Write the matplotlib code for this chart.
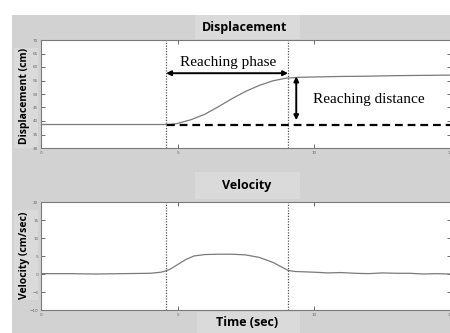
import matplotlib
matplotlib.use("Agg")
import matplotlib.pyplot as plt
from matplotlib.patches import Rectangle

# ---- data ----
disp_t = [0, 1, 2, 3, 4, 4.6, 4.8, 5.0, 5.5, 6.0, 6.5, 7.0, 7.5, 8.0, 8.5, 9.0,
          9.5, 10, 11, 12, 13, 14, 15]
disp_v = [38.7, 38.7, 38.7, 38.7, 38.7, 38.7, 38.8, 39.1, 40.5, 42.5, 45.3, 48.3,
          51.0, 53.2, 54.9, 55.9, 56.2, 56.3, 56.5, 56.6, 56.8, 56.9, 57.0]

vel_t = [0, 1, 2, 3, 4, 4.4, 4.7, 5.0, 5.3, 5.6, 6.0, 6.5, 7.0, 7.5, 8.0, 8.5,
         8.8, 9.05, 9.3, 10, 10.5, 11, 11.5, 12, 12.5, 13, 13.5, 14, 14.5, 15]
vel_v = [0.1, 0.1, 0.0, 0.1, 0.2, 0.5, 1.2, 2.6, 4.0, 5.0, 5.4, 5.5, 5.5, 5.3,
         4.6, 3.2, 2.0, 1.0, 0.7, 0.5, 0.3, 0.4, 0.2, 0.1, 0.3, 0.2, 0.2, 0.0, 0.1, 0.0]

phase_start = 4.58
phase_end = 9.05
baseline = 38.5
plateau = 57.7

disp_yticks = [30, 35, 40, 45, 50, 55, 60, 65, 70]
vel_yticks = [-10, -5, 0, 5, 10, 15, 20]
xticks = [0, 5, 10, 15]

W, H = 450, 333
fig = plt.figure(figsize=(4.5, 3.33), dpi=100)
fig.patch.set_facecolor("white")

def fx(px):
    return px / W

def fy(py):
    return 1 - py / H

bg = "#d2d2d2"
box = "#dadada"
fig.patches.append(Rectangle((fx(12), 0), 1 - fx(12), fy(15), transform=fig.transFigure,
                             facecolor=bg, edgecolor="none", zorder=-10))
for (x0, y0, x1, y1) in [(195, 15, 300, 39), (195, 172, 300, 199), (197, 312, 300, 333),
                         (14, 48, 38, 148), (14, 210, 38, 300)]:
    fig.patches.append(Rectangle((fx(x0), fy(y1)), fx(x1) - fx(x0), fy(y0) - fy(y1),
                                 transform=fig.transFigure, facecolor=box,
                                 edgecolor="none", zorder=-9))

ax1 = fig.add_axes([fx(41), fy(148), fx(450.5) - fx(41), fy(40) - fy(148)], zorder=1)
ax2 = fig.add_axes([fx(41), fy(310), fx(450.5) - fx(41), fy(202) - fy(310)], zorder=1)

for ax, yt in [(ax1, disp_yticks), (ax2, vel_yticks)]:
    ax.set_facecolor("white")
    ax.set_xlim(0, 15)
    ax.set_ylim(yt[0], yt[-1])
    ax.set_xticks(xticks)
    ax.set_yticks(yt)
    ax.tick_params(direction="in", length=3, width=0.6, color="#555555",
                   labelsize=3, labelcolor="#666666", pad=2,
                   top=True, right=True)
    for s in ax.spines.values():
        s.set_color("#7a7a7a")
        s.set_linewidth(0.8)
    ax.axvline(phase_start, color="#555555", lw=0.9, ls=(0, (1, 1.2)))
    ax.axvline(phase_end, color="#555555", lw=0.9, ls=(0, (1, 1.2)))

ax1.plot(disp_t, disp_v, color="#7a7a7a", lw=0.9)
ax2.plot(vel_t, vel_v, color="#7a7a7a", lw=0.9)

# dashed baseline
ax1.plot([phase_start + 0.05, 15], [baseline, baseline], color="black", lw=1.6,
         ls=(0, (3.5, 2.2)))

# arrows
ax1.annotate("", xy=(phase_start, plateau), xytext=(phase_end, plateau),
             arrowprops=dict(arrowstyle="<|-|>", color="black", lw=1.4,
                             mutation_scale=7, shrinkA=0, shrinkB=0))
ax1.annotate("", xy=(9.35, 56.5), xytext=(9.35, 40.3),
             arrowprops=dict(arrowstyle="<|-|>", color="black", lw=1.4,
                             mutation_scale=7, shrinkA=0, shrinkB=0))

serif = "Liberation Serif"
ax1.text(6.85, 61.5, "Reaching phase", family=serif, fontsize=11,
         ha="center", va="center")
ax1.text(12.0, 48.0, "Reaching distance", family=serif, fontsize=11,
         ha="center", va="center")

sans = "Open Sans"
fig.text(fx(245), fy(27), "Displacement", family=sans, weight="bold", fontsize=9,
         ha="center", va="center")
fig.text(fx(247), fy(186), "Velocity", family=sans, weight="bold", fontsize=9,
         ha="center", va="center")
fig.text(fx(247), fy(323), "Time (sec)", family=sans, weight="bold", fontsize=9,
         ha="center", va="center")
fig.text(fx(25), fy(96), "Displacement (cm)", family=sans, weight="bold", fontsize=7.5,
         ha="center", va="center", rotation=90)
fig.text(fx(25), fy(255), "Velocity (cm/sec)", family=sans, weight="bold", fontsize=7.5,
         ha="center", va="center", rotation=90)

fig.savefig("out.png", dpi=100)
